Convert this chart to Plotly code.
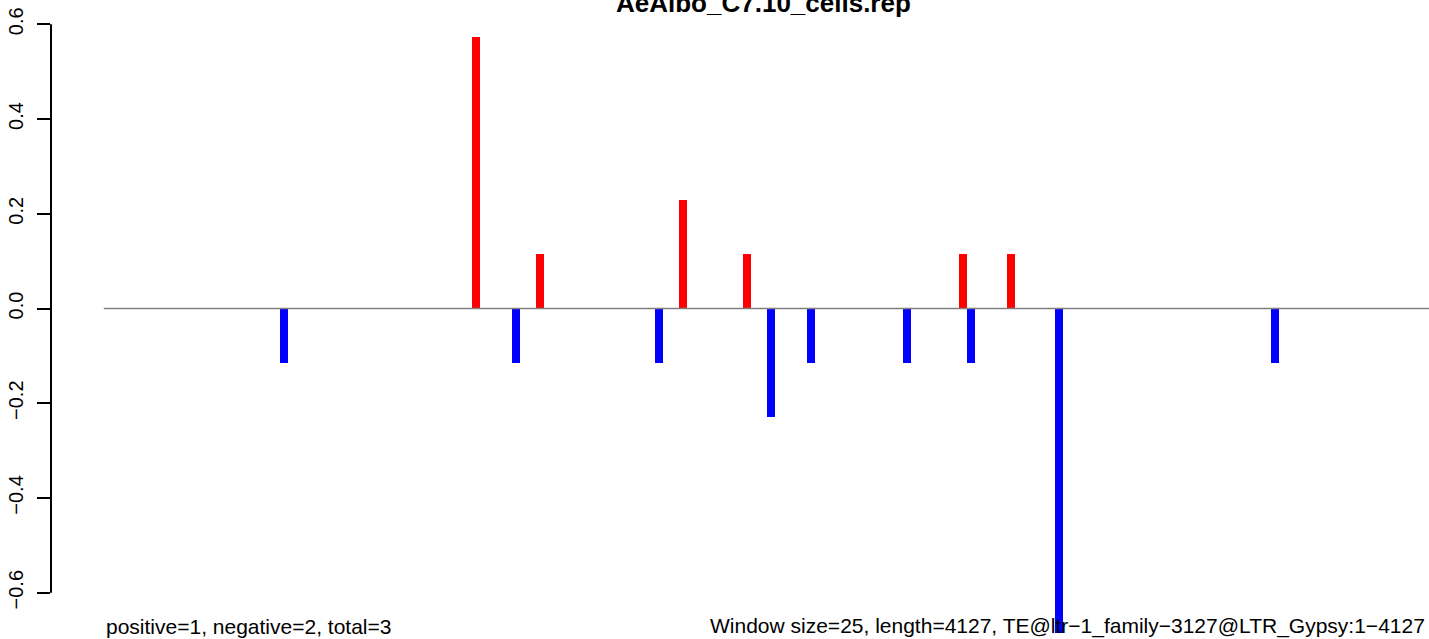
import plotly.graph_objects as go

# window centres (bp) and normalised counts
POS_X = [1162.5, 1362.5, 1812.5, 2012.5, 2687.5, 2837.5]
POS_Y = [0.574, 0.115, 0.229, 0.115, 0.115, 0.115]
NEG_X = [562.5, 1287.5, 1737.5, 2087.5, 2212.5, 2512.5, 2712.5, 2987.5, 3662.5]
NEG_Y = [-0.115, -0.115, -0.115, -0.229, -0.115, -0.115, -0.115, -0.686, -0.115]

WINDOW = 25
LENGTH = 4127
TITLE = "AeAlbo_C7.10_cells.rep"
LEFT_NOTE = "positive=1, negative=2, total=3"
RIGHT_NOTE = "Window size=25, length=4127, TE@ltr−1_family−3127@LTR_Gypsy:1−4127"

Y_TICKS = [-0.6, -0.4, -0.2, 0.0, 0.2, 0.4, 0.6]
Y_TICKTEXT = ["−0.6", "−0.4", "−0.2", "0.0", "0.2", "0.4", "0.6"]

W, H = 1429, 639
LEFT = 51
FONT = "Liberation Sans, Arial, Helvetica, sans-serif"

# R style axis limits (4% padding), the picture is cropped on the right
x_lo = -0.04 * LENGTH
x_full_hi = LENGTH * 1.04
px_per_bp = 0.3198
x_hi = x_lo + (W - LEFT) / px_per_bp

y_px_per_unit = 473.7
y_zero_px = 308.5
y_hi = y_zero_px / y_px_per_unit
y_lo = -(H - y_zero_px) / y_px_per_unit

fig = go.Figure()

# baseline at 0
fig.add_trace(go.Scatter(
    x=[0, x_full_hi], y=[0, 0], mode="lines",
    line=dict(color="#808080", width=1.6), hoverinfo="skip", showlegend=False,
))

fig.add_trace(go.Bar(
    x=POS_X, y=POS_Y, width=WINDOW, marker=dict(color="#ff0000", line=dict(width=0)),
    showlegend=False,
))
fig.add_trace(go.Bar(
    x=NEG_X, y=NEG_Y, width=WINDOW, marker=dict(color="#0000ff", line=dict(width=0)),
    showlegend=False,
))

# y axis line only over the tick span, like R's axis()
fig.add_shape(type="line", xref="paper", yref="y", x0=0, x1=0,
              y0=Y_TICKS[0], y1=Y_TICKS[-1], line=dict(color="black", width=2))

fig.add_annotation(text="<b>" + TITLE + "</b>", xref="x", yref="y",
                   x=(x_lo + x_full_hi) / 2, y=(y_zero_px - 14) / y_px_per_unit,
                   yanchor="bottom", yshift=-6, showarrow=False,
                   font=dict(family=FONT, size=26, color="black"))
fig.add_annotation(text=LEFT_NOTE, xref="x", yref="y", x=0, y=-0.687,
                   xanchor="left", yanchor="bottom", yshift=-6, showarrow=False,
                   font=dict(family=FONT, size=21, color="black"))
fig.add_annotation(text=RIGHT_NOTE, xref="x", yref="y", x=LENGTH, y=-0.687,
                   xanchor="right", yanchor="bottom", yshift=-6, xshift=3,
                   showarrow=False, font=dict(family=FONT, size=21, color="black"))

fig.update_layout(
    width=W, height=H,
    margin=dict(l=LEFT, r=0, t=0, b=0),
    paper_bgcolor="white", plot_bgcolor="white",
    barmode="overlay", bargap=0,
    showlegend=False,
    font=dict(family=FONT, size=20, color="black"),
)
fig.update_xaxes(range=[x_lo, x_hi], visible=False, showgrid=False, zeroline=False)
fig.update_yaxes(
    range=[y_lo, y_hi], tickvals=Y_TICKS, ticktext=Y_TICKTEXT, tickangle=-90,
    ticks="outside", ticklen=13, tickwidth=2, tickcolor="black",
    showline=False, showgrid=False, zeroline=False,
    tickfont=dict(family=FONT, size=20, color="black"), ticklabelstandoff=6,
)

# drop the browser's default 8px body margin so the figure fills the window
fig.write_html(
    "out.html",
    config={"displayModeBar": False},
    post_script="document.body.style.margin='0';document.body.style.overflow='hidden';",
)
